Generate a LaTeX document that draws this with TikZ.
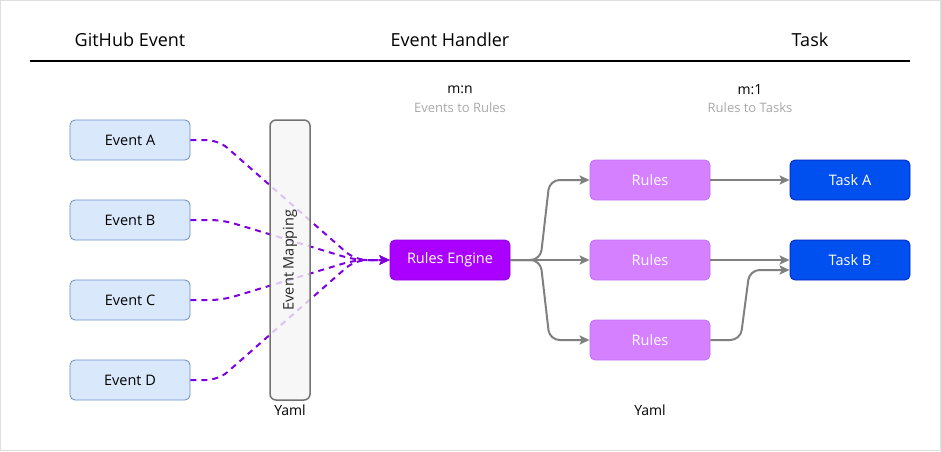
\documentclass[tikz,border=0pt]{standalone}
\usepackage{fontspec}
\setmainfont{Open Sans}
\usetikzlibrary{arrows.meta,calc}
\definecolor{evfill}{HTML}{DAE8FC}
\definecolor{evline}{HTML}{6C8EBF}
\definecolor{refill}{HTML}{AA00FF}
\definecolor{reline}{HTML}{9000D8}
\definecolor{rufill}{HTML}{D580FF}
\definecolor{ruline}{HTML}{C070F0}
\definecolor{tkfill}{HTML}{0050EF}
\definecolor{tkline}{HTML}{001DBC}
\definecolor{dashc}{HTML}{7F00DF}
\definecolor{conn}{HTML}{808080}
\definecolor{subtxt}{HTML}{A8A8A8}
\tikzset{
  box/.style={rounded corners=5pt, minimum width=120pt, minimum height=40pt, inner sep=0pt, line width=0.8pt, font=\fontsize{14.5}{16}\selectfont},
  evbox/.style={box, draw=evline, fill=evfill, text=black},
  rebox/.style={box, draw=reline, fill=refill, text=white},
  rubox/.style={box, draw=ruline, fill=rufill, text=white},
  tkbox/.style={box, draw=tkline, fill=tkfill, text=white},
  heading/.style={font=\fontsize{18}{20}\selectfont, text=black},
  dashedge/.style={draw=dashc, line width=2pt, dash pattern=on 6pt off 5pt, rounded corners=12pt, -{Stealth[length=10pt,width=9pt,inset=2pt]}},
  grayedge/.style={draw=conn, line width=2pt, rounded corners=10pt, -{Stealth[length=10pt,width=9pt,inset=2pt]}},
  small/.style={font=\fontsize{14}{16}\selectfont},
  sub/.style={font=\fontsize{13}{15}\selectfont, text=subtxt}
}
\begin{document}
\begin{tikzpicture}[x=1pt,y=-1pt]
\useasboundingbox (0,0) rectangle (941,451);
\draw[draw=black!13, line width=1pt] (0.5,0.5) rectangle (940.5,450.5);

\node[heading] (h1) at (130,40) {GitHub Event};
\node[heading] (h2) at (450,40) {Event Handler};
\node[heading] (h3) at (810,40) {Task};
\coordinate (l1) at (30,61);
\coordinate (l2) at (910,61);
\draw[line width=1.2pt] (l1) -- (l2);

\node[small] (mn) at (460,90) {m:n};
\node[sub] (mnsub) at (460,108) {Events to Rules};
\node[small] (m1) at (750,90) {m:1};
\node[sub] (m1sub) at (750,108) {Rules to Tasks};

\node[evbox] (ea) at (130,140) {Event A};
\node[evbox] (eb) at (130,220) {Event B};
\node[evbox] (ec) at (130,300) {Event C};
\node[evbox] (ed) at (130,380) {Event D};

\node[rebox] (re) at (450,260) {Rules Engine};

\coordinate (cv) at (355,260);
\draw[dashedge] (ea.east) -- ++(28,0) -- (cv) -- (re.west);
\draw[dashedge] (eb.east) -- ++(32,0) -- (cv) -- (re.west);
\draw[dashedge] (ec.east) -- ++(32,0) -- (cv) -- (re.west);
\draw[dashedge] (ed.east) -- ++(28,0) -- (cv) -- (re.west);

\node[draw=black!55, fill=black!4, fill opacity=0.8, text opacity=1, rounded corners=6pt, line width=1.5pt, minimum width=40pt, minimum height=280pt, inner sep=0pt] (em) at (290,260) {};
\node[rotate=90, font=\fontsize{14.5}{16}\selectfont, text=black!85] (emt) at (290,260) {Event Mapping};
\node[small] (y1) at (290,410) {Yaml};

\node[rubox] (r1) at (650,180) {Rules};
\node[rubox] (r2) at (650,260) {Rules};
\node[rubox] (r3) at (650,340) {Rules};

\node[tkbox] (ta) at (850,180) {Task A};
\node[tkbox] (tb) at (850,260) {Task B};

\node[small] (y2) at (650,410) {Yaml};

\draw[grayedge] (re.east) -- ++(30,0) -- ($(r1.west)+(-40,0)$) -- (r1.west);
\draw[grayedge] (re.east) -- (r2.west);
\draw[grayedge] (re.east) -- ++(30,0) -- ($(r3.west)+(-40,0)$) -- (r3.west);
\draw[grayedge] (r1.east) -- (ta.west);
\draw[grayedge] (r2.east) -- (tb.west);
\draw[grayedge] (r3.east) -- ++(30,0) -- ($(tb.west)+(-40,10)$) -- ($(tb.west)+(0,10)$);
\end{tikzpicture}
\end{document}
